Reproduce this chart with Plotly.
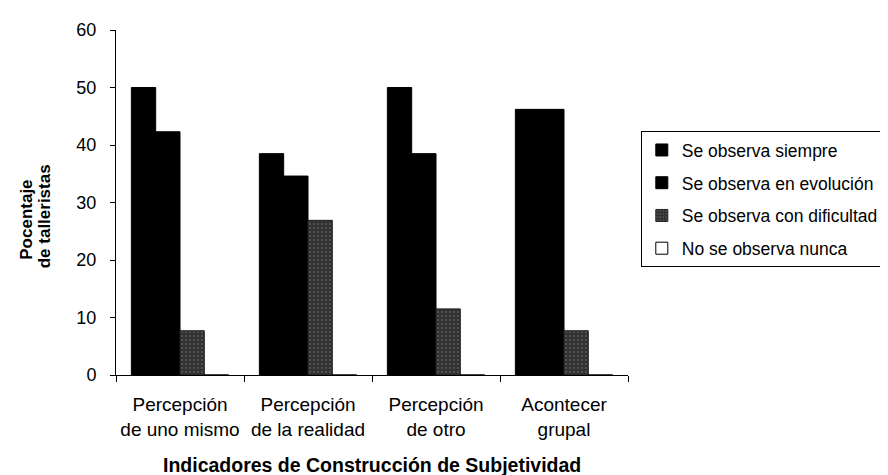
import plotly.graph_objects as go

# Datos (porcentaje de talleristas, N=26)
indicadores = ["Percepción<br>de uno mismo", "Percepción<br>de la realidad",
               "Percepción<br>de otro", "Acontecer<br>grupal"]
siempre = [50.0, 38.5, 50.0, 46.2]
evolucion = [42.3, 34.6, 38.5, 46.2]
dificultad = [7.7, 26.9, 11.5, 7.7]
nunca = [0, 0, 0, 0]

FONT = "Arial, Liberation Sans, sans-serif"

fig = go.Figure()
fig.add_trace(go.Bar(x=indicadores, y=siempre, name="Se observa siempre",
                     legendgroup="a", marker=dict(color="black", line=dict(color="black", width=1))))
fig.add_trace(go.Bar(x=indicadores, y=evolucion, name="Se observa en evolución",
                     legendgroup="b", marker=dict(color="black", line=dict(color="black", width=1))))
fig.add_trace(go.Bar(x=indicadores, y=dificultad, name="Se observa con dificultad",
                     legendgroup="c",
                     marker=dict(color="#333333", line=dict(color="#222222", width=1),
                                 pattern=dict(shape=".", fgcolor="#bdbdbd", bgcolor="#333333",
                                              size=4, solidity=0.12))))
fig.add_trace(go.Bar(x=indicadores, y=nunca, name="No se observa nunca",
                     legendgroup="d", marker=dict(color="white", line=dict(color="black", width=1))))

fig.update_layout(
    width=888, height=475,
    margin=dict(l=108, r=253, t=22, b=108),
    paper_bgcolor="white", plot_bgcolor="white",
    font=dict(family=FONT, size=18, color="black"),
    barmode="group", bargap=0.24, bargroupgap=0,
    showlegend=True,
    legend=dict(x=1.025, y=0.707, xanchor="left", yanchor="top",
                bordercolor="black", borderwidth=1, bgcolor="white",
                font=dict(size=17.5), tracegroupgap=7, itemwidth=30),
)
fig.update_xaxes(showline=True, linecolor="black", linewidth=1,
                 ticks="outside", tickson="boundaries", ticklen=6, tickcolor="black",
                 tickfont=dict(size=19), ticklabelstandoff=12, tickangle=0, automargin=False,
                 showgrid=False)
fig.update_yaxes(range=[0, 60], dtick=10, showline=True, linecolor="black", linewidth=1,
                 ticks="outside", ticklen=5, tickcolor="black", ticklabelstandoff=10,
                 automargin=False, showgrid=False, zeroline=False)

# títulos de ejes
fig.add_annotation(text="<b>Indicadores de Construcción de Subjetividad</b>",
                   xref="paper", yref="paper", x=0.5, y=-0.262, xanchor="center", yanchor="middle",
                   showarrow=False, font=dict(size=19.5))
fig.add_annotation(text="<b>Pocentaje</b>", xref="paper", yref="paper", x=0, y=0.45,
                   xshift=-89, textangle=-90, xanchor="center", yanchor="middle",
                   showarrow=False, font=dict(size=17))
fig.add_annotation(text="<b>de talleristas</b>", xref="paper", yref="paper", x=0, y=0.46,
                   xshift=-72, textangle=-90, xanchor="center", yanchor="middle",
                   showarrow=False, font=dict(size=17))

fig.write_html("out.html")
